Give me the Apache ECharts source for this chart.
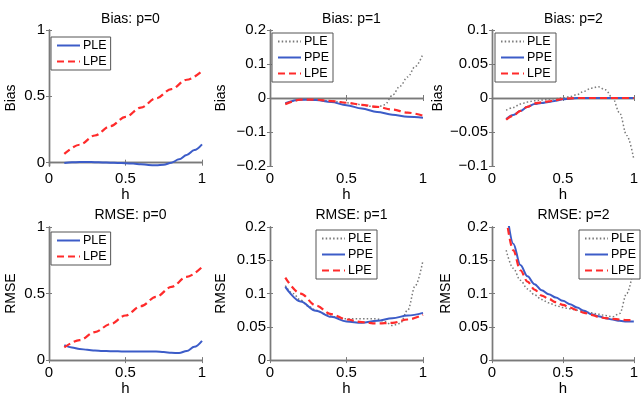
<!DOCTYPE html>
<html><head><meta charset="utf-8">
<script src="https://cdn.jsdelivr.net/npm/echarts@6/dist/echarts.min.js"></script>
<style>html,body{margin:0;padding:0;background:#fff;overflow:hidden}#c{width:641px;height:397px}</style>
</head><body><div id="c"></div>
<script>
// ---------- data ----------
const h10 = [0.1,0.2,0.3,0.4,0.5,0.6,0.7,0.8,0.9,1.0];
const h05 = [0.1,0.15,0.2,0.25,0.3,0.35,0.4,0.45,0.5,0.55,0.6,0.65,0.7,0.75,0.8,0.85,0.9,0.95,1.0];

const titles = ['Bias: p=0','Bias: p=1','Bias: p=2','RMSE: p=0','RMSE: p=1','RMSE: p=2'];
const xTicks = [0, 0.5, 1];

// Bias p=0
const biasP0_PLE = [-0.003,0.003,0.005,0.005,0.004,0.002,0.0,-0.002,-0.004,-0.007,-0.012,-0.017,-0.02,-0.016,0.0,0.025,0.058,0.095,0.138];
const biasP0_LPE = [0.066,0.135,0.205,0.275,0.345,0.415,0.485,0.555,0.625,0.69];
// Bias p=1
const biasP1_PLE = [-0.018,-0.009,-0.005,-0.004,-0.005,-0.007,-0.009,-0.011,-0.014,-0.017,-0.02,-0.024,-0.027,-0.02,0.008,0.035,0.062,0.093,0.13];
const biasP1_PPE = [-0.015,-0.005,-0.006,-0.012,-0.021,-0.031,-0.041,-0.049,-0.055,-0.058];
const biasP1_LPE = [-0.018,-0.005,-0.005,-0.009,-0.014,-0.02,-0.026,-0.034,-0.043,-0.052];
// Bias p=2
const biasP2_PLE = [-0.018,-0.014,-0.009,-0.006,-0.004,-0.003,-0.002,-0.001,0.0,0.002,0.005,0.01,0.0145,0.0165,0.012,0.0,-0.022,-0.055,-0.09];
const biasP2_PPE = [-0.031,-0.025,-0.019,-0.013,-0.009,-0.0075,-0.006,-0.004,-0.002,-0.001,0,0,0,0,0,0,0,0,0];
const biasP2_LPE = [-0.032,-0.026,-0.019,-0.013,-0.008,-0.0065,-0.005,-0.003,-0.0015,-0.0005,0,0,0,0,0,0,0,0,0];
// RMSE p=0
const rmseP0_PLE = [0.112,0.095,0.084,0.077,0.072,0.069,0.067,0.066,0.065,0.065,0.065,0.065,0.064,0.06,0.055,0.053,0.068,0.1,0.145];
const rmseP0_LPE = [0.095,0.15,0.21,0.27,0.335,0.405,0.475,0.55,0.625,0.70];
// RMSE p=1
const rmseP1_PLE = [0.112,0.1,0.09,0.081,0.075,0.07,0.066,0.064,0.062,0.062,0.062,0.062,0.062,0.058,0.052,0.055,0.075,0.112,0.15];
const rmseP1_PPE = [0.11,0.088,0.074,0.065,0.058,0.056,0.059,0.063,0.067,0.071];
const rmseP1_LPE = [0.124,0.10,0.082,0.069,0.061,0.057,0.055,0.056,0.061,0.068];
// RMSE p=2
const rmseP2_PLE = [0.165,0.138,0.12,0.107,0.098,0.091,0.086,0.082,0.079,0.077,0.075,0.073,0.071,0.069,0.067,0.065,0.07,0.1,0.14];
const rmseP2_PPE = [0.23,0.175,0.143,0.126,0.114,0.105,0.099,0.094,0.089,0.084,0.079,0.074,0.069,0.066,0.063,0.061,0.059,0.058,0.058];
const rmseP2_LPE = [0.215,0.165,0.135,0.118,0.106,0.097,0.092,0.087,0.083,0.079,0.075,0.071,0.068,0.065,0.063,0.062,0.061,0.06,0.06];

// ---------- layout / style ----------
const FONT = '"Liberation Sans", Arial, Helvetica, sans-serif';
const COLS = [49, 270, 492], ROWS = [30, 227], W = 153, H = 136;
const STY = {
  blue: {color:'#3c5cc8', lineStyle:{width:2, type:'solid'}},
  red:  {color:'#ff2b2b', lineStyle:{width:2.2, type:[7,4]}},
  gray: {color:'#7a7a7a', lineStyle:{width:1.5, type:[1.5,2.2]}}
};
const panels = [
  {yName:'Bias', yMin:-0.025, yMax:1, yTicks:[0,0.5,1], gap:31, legend:[51,37],
   series:[['PLE',h05,biasP0_PLE,'blue'],['LPE',h10,biasP0_LPE,'red']]},
  {yName:'Bias', yMin:-0.2, yMax:0.2, yTicks:[-0.2,-0.1,0,0.1,0.2], gap:42, legend:[272,33],
   series:[['PLE',h05,biasP1_PLE,'gray'],['PPE',h10,biasP1_PPE,'blue'],['LPE',h10,biasP1_LPE,'red']]},
  {yName:'Bias', yMin:-0.1, yMax:0.1, yTicks:[-0.1,-0.05,0,0.05,0.1], gap:47, legend:[495,33],
   series:[['PLE',h05,biasP2_PLE,'gray'],['PPE',h05,biasP2_PPE,'blue'],['LPE',h05,biasP2_LPE,'red']]},
  {yName:'RMSE', yMin:0, yMax:1, yTicks:[0,0.5,1], gap:31, legend:[51,232],
   series:[['PLE',h05,rmseP0_PLE,'blue'],['LPE',h10,rmseP0_LPE,'red']]},
  {yName:'RMSE', yMin:0, yMax:0.2, yTicks:[0,0.05,0.1,0.15,0.2], gap:42, legend:[316,230],
   series:[['PLE',h05,rmseP1_PLE,'gray'],['PPE',h10,rmseP1_PPE,'blue'],['LPE',h10,rmseP1_LPE,'red']]},
  {yName:'RMSE', yMin:0, yMax:0.2, yTicks:[0,0.05,0.1,0.15,0.2], gap:39, legend:[579,230],
   series:[['PLE',h05,rmseP2_PLE,'gray'],['PPE',h05,rmseP2_PPE,'blue'],['LPE',h05,rmseP2_LPE,'red']]}
];

const axLine = {show:true, lineStyle:{color:'#7a7a7a', width:1.4}};
const tick = (vals) => ({show:true, inside:true, length:3, customValues:vals, lineStyle:{color:'#7a7a7a', width:1}});
const fmt = v => String(+v.toFixed(3)).replace('-', '\u2212');

const option = {animation:false, backgroundColor:'#fff', textStyle:{fontFamily:FONT},
  title:[], grid:[], xAxis:[], yAxis:[], series:[], legend:[]};

panels.forEach((p, i) => {
  const c = i % 3, r = Math.floor(i / 3);
  const left = COLS[c], top = ROWS[r];
  option.grid.push({left, top, width:W, height:H, containLabel:false});
  option.title.push({text:titles[i], left:left + W/2, top: r === 0 ? 7 : 203, textAlign:'center',
    textStyle:{fontSize:14, fontWeight:'normal', color:'#000', fontFamily:FONT}});
  const xBase = {type:'value', gridIndex:i, min:0, max:1, splitLine:{show:false}, axisLine:axLine, axisTick:tick(xTicks)};
  option.xAxis.push(Object.assign({}, xBase, {position:'bottom', name:'h', nameLocation:'middle', nameGap:18,
    nameTextStyle:{fontSize:15, color:'#000', fontFamily:FONT},
    axisLabel:{show:true, customValues:xTicks, margin:5, fontSize:15, color:'#000', fontFamily:FONT, formatter:fmt}}));
  option.xAxis.push(Object.assign({}, xBase, {position:'top', axisLabel:{show:false}}));
  const yBase = {type:'value', gridIndex:i, min:p.yMin, max:p.yMax, splitLine:{show:false}, axisLine:axLine, axisTick:tick(p.yTicks)};
  option.yAxis.push(Object.assign({}, yBase, {position:'left', name:p.yName, nameLocation:'middle', nameGap:p.gap,
    nameTextStyle:{fontSize:14, color:'#000', fontFamily:FONT},
    axisLabel:{show:true, customValues:p.yTicks, margin:4, fontSize:15, color:'#000', fontFamily:FONT, formatter:fmt}}));
  option.yAxis.push(Object.assign({}, yBase, {position:'right', axisLabel:{show:false}}));
  const names = [];
  p.series.forEach(([nm, hs, vals, st]) => {
    const sname = nm + '#' + i;
    names.push(sname);
    const s = STY[st];
    option.series.push({type:'line', name:sname, xAxisIndex:2*i, yAxisIndex:2*i,
      data: hs.map((h, k) => [h, vals[k]]), showSymbol:false, symbol:'none', smooth:0.35, smoothMonotone:'x', clip:true,
      color:s.color, lineStyle:Object.assign({color:s.color}, s.lineStyle), z: st === 'red' ? 4 : (st === 'blue' ? 3 : 2)});
  });
  option.legend.push({data:names, left:p.legend[0], top:p.legend[1], orient:'vertical', selectedMode:false,
    itemWidth:23, itemHeight:13, itemGap:3, padding:[2,4,2,5], borderColor:'#555', borderWidth:1, backgroundColor:'#fff',
    itemStyle:{opacity:0},
    formatter: n => n.split('#')[0], textStyle:{fontSize:12.5, color:'#000', fontFamily:FONT, padding:[0,0,0,-2]}});
});

const chart = echarts.init(document.getElementById('c'), null, {renderer:'canvas'});
chart.setOption(option);
</script></body></html>
